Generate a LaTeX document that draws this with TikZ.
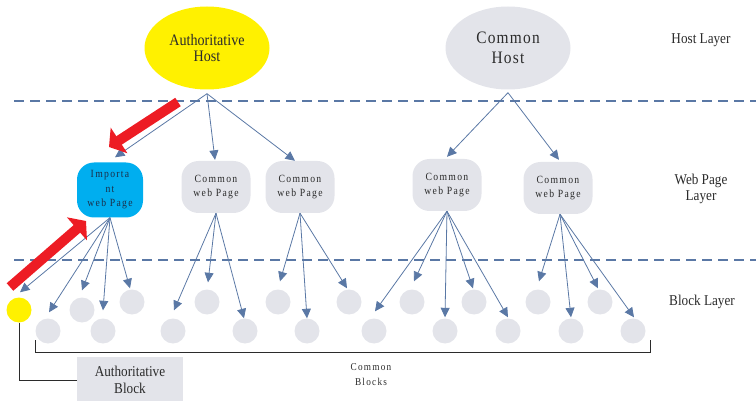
\documentclass[tikz,border=0pt]{standalone}
\usepackage{fontspec}
\setmainfont{Liberation Serif}[FakeStretch=0.88]
\newfontfamily\spacedsmall{Liberation Serif}[FakeStretch=0.88,LetterSpace=12]
\newfontfamily\spacedlarge{Liberation Serif}[FakeStretch=0.88,LetterSpace=7]
\usetikzlibrary{arrows.meta,shapes.geometric}

\definecolor{hostyellow}{HTML}{FFF100}
\definecolor{pageblue}{HTML}{00AEEF}
\definecolor{lightgrey}{HTML}{E3E4EA}
\definecolor{linkblue}{HTML}{5A78A5}
\definecolor{alertred}{HTML}{ED1C24}
\definecolor{inkgrey}{HTML}{2B2B2B}
\definecolor{inknavy}{HTML}{1B2F4A}

\begin{document}
\begin{tikzpicture}[x=1pt,y=-1pt,
  host/.style={ellipse, minimum width=125pt, minimum height=83pt, inner sep=0pt,
    align=center, text=inkgrey},
  page/.style={rectangle, rounded corners=17pt, minimum width=69pt, minimum height=52pt,
    inner sep=0pt, align=center, fill=lightgrey, text=inkgrey,
    font=\spacedsmall\fontsize{11}{13.5}\selectfont},
  block/.style={circle, minimum size=25pt, inner sep=0pt, fill=lightgrey},
  link/.style={color=linkblue, line width=0.8pt, -{Triangle[length=9.5pt,width=9pt]}},
  layer/.style={draw=linkblue, line width=2.4pt, dash pattern=on 10pt off 6pt},
  label/.style={font=\fontsize{15}{16}\selectfont, text=inkgrey, align=center},
  alert/.style={draw=alertred, line width=10pt, -{Triangle[length=12pt,width=30pt]}},
  bracket/.style={draw=inkgrey, line width=1pt}
]
\useasboundingbox (0,0) rectangle (756,401);

% layer separators
\coordinate (sepAl) at (14,101);  \coordinate (sepAr) at (756,101);
\coordinate (sepBl) at (14,260);  \coordinate (sepBr) at (756,260);
\draw[layer] (sepAl) -- (sepAr);
\draw[layer] (sepBl) -- (sepBr);

% hosts
\node[host, fill=hostyellow, font=\fontsize{16}{16.5}\selectfont] (ah) at (207,48) {Authoritative\\Host};
\node[host, fill=lightgrey, font=\spacedlarge\fontsize{17.5}{19.5}\selectfont] (ch) at (508,48) {Common\\Host};
\coordinate (ahfoot) at ([shift={(0,4)}]ah.south);
\coordinate (chfoot) at ([shift={(0,3)}]ch.south);

% web pages
\node[page, fill=pageblue, text=inknavy, minimum width=66pt, minimum height=55pt,
  font=\spacedsmall\fontsize{11}{14.5}\selectfont] (ip) at (110,190) {Importa\\nt\\web Page};
\node[page] (cp1) at (216,187) {Common\\web Page};
\node[page] (cp2) at (300,187) {Common\\web Page};
\node[page] (cp3) at (447,185) {Common\\web Page};
\node[page] (cp4) at (558,188) {Common\\web Page};

% blocks
\node[block, fill=hostyellow] (b0) at (19,310) {};
\node[block] (bA) at (48,331) {};
\node[block] (bB) at (82,310) {};
\node[block] (bC) at (103,331) {};
\node[block] (bD) at (132,302) {};
\node[block] (bE) at (173,331) {};
\node[block] (bF) at (207,302) {};
\node[block] (bG) at (245,331) {};
\node[block] (bH) at (278,302) {};
\node[block] (bI) at (307,331) {};
\node[block] (bJ) at (349,302) {};
\node[block] (bK) at (374,331) {};
\node[block] (bL) at (412,302) {};
\node[block] (bM) at (445,331) {};
\node[block] (bN) at (474,302) {};
\node[block] (bO) at (508,331) {};
\node[block] (bP) at (538,302) {};
\node[block] (bQ) at (571,331) {};
\node[block] (bR) at (600,302) {};
\node[block] (bS) at (633,331) {};

% host -> page links
\draw[link] (ahfoot) -- ([shift={(5,-5)}]ip.north);
\draw[link] (ahfoot) -- ([shift={(-1,-1)}]cp1.north);
\draw[link] (ahfoot) -- ([shift={(-5,0)}]cp2.north);
\draw[link] (chfoot) -- ([shift={(0,-2)}]cp3.north);
\draw[link] (chfoot) -- ([shift={(1,-2)}]cp4.north);

% page -> block links
\draw[link] (ip.south) -- ([shift={(1,-5)}]b0.north);
\draw[link] (ip.south) -- ([shift={(1,-6)}]bA.north);
\draw[link] (ip.south) -- ([shift={(0,-7)}]bB.north);
\draw[link] (ip.south) -- ([shift={(0,-8)}]bC.north);
\draw[link] (ip.south) -- ([shift={(-2,-1)}]bD.north);

\draw[link] (cp1.south) -- ([shift={(1,-8)}]bE.north);
\draw[link] (cp1.south) -- ([shift={(1,-7)}]bF.north);
\draw[link] (cp1.south) -- ([shift={(-1,0)}]bG.north);

\draw[link] (cp2.south) -- ([shift={(2,-8)}]bH.north);
\draw[link] (cp2.south) -- ([shift={(0,0)}]bI.north);
\draw[link] (cp2.south) -- ([shift={(-2,-1)}]bJ.north);

\draw[link] (cp3.south) -- ([shift={(1,-7)}]bK.north);
\draw[link] (cp3.south) -- ([shift={(2,-8)}]bL.north);
\draw[link] (cp3.south) -- ([shift={(0,-1)}]bM.north);
\draw[link] (cp3.south) -- ([shift={(-1,-1)}]bN.north);
\draw[link] (cp3.south) -- ([shift={(0,-1)}]bO.north);

\draw[link] ([shift={(2,0)}]cp4.south) -- ([shift={(1,-8)}]bP.north);
\draw[link] ([shift={(2,0)}]cp4.south) -- ([shift={(0,-1)}]bQ.north);
\draw[link] ([shift={(2,0)}]cp4.south) -- ([shift={(-2,-1)}]bR.north);
\draw[link] ([shift={(2,0)}]cp4.south) -- ([shift={(1,-1)}]bS.north);

% highlight arrows
\coordinate (redAtail) at (178,102);
\coordinate (redAhead) at (109,147);
\coordinate (redBtail) at (10,287);
\coordinate (redBhead) at (86,221);
\draw[alert] (redAtail) -- (redAhead);
\draw[alert] (redBtail) -- (redBhead);

% layer labels
\node[label] (lhost) at (701,40) {Host Layer};
\node[label, font=\fontsize{15}{16}\selectfont] (lpage) at (701,189) {Web Page\\Layer};
\node[label] (lblock) at (702,302) {Block Layer};

% common blocks bracket
\coordinate (brl) at (35,340);
\coordinate (brr) at (650,340);
\draw[bracket] (brl) -- (35,352) -- (650,352) -- (brr);
\node[text=inkgrey, align=center, font=\spacedsmall\fontsize{10.5}{15}\selectfont] (cblk) at (371,375) {Common\\Blocks};

% authoritative block callout
\node[fill=lightgrey, minimum width=106pt, minimum height=46pt, inner sep=0pt, align=center,
  text=inkgrey, font=\fontsize{15}{17}\selectfont] (ablk) at (130,380) {Authoritative\\Block};
\draw[bracket] (b0.south) |- (ablk.west);
\end{tikzpicture}
\end{document}
